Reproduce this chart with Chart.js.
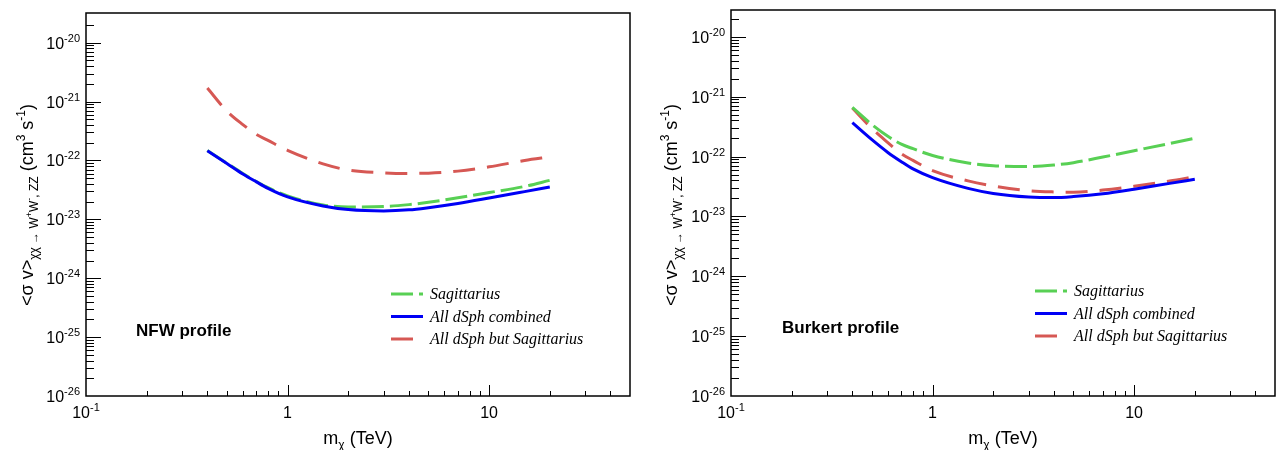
<!DOCTYPE html>
<html>
<head>
<meta charset="utf-8">
<script src="https://cdn.jsdelivr.net/npm/chart.js@4.4.0/dist/chart.umd.min.js"></script>
<style>
body { margin: 0; background: #fff; }
#wrap { position: relative; width: 1282px; height: 450px; }
.panel { position: absolute; top: 0; width: 641px; height: 450px; }
</style>
</head>
<body>
<div id="wrap">
    <div class="panel" style="left:0"><canvas id="chart-nfw" width="641" height="450"></canvas></div>
    <div class="panel" style="left:641px"><canvas id="chart-burkert" width="641" height="450"></canvas></div>
</div>
<script>
// dark matter mass, TeV
masses = [0.4, 0.5, 0.6, 0.7, 0.8, 1, 1.5, 2, 3, 4, 5, 7, 10, 15, 20]

// <sigma v> upper limits, cm^3 s^-1
nfw_sagittarius = [1.48e-22, 9.0e-23, 6.0e-23, 4.4e-23, 3.45e-23, 2.5e-23, 1.76e-23, 1.62e-23, 1.65e-23, 1.78e-23, 1.95e-23, 2.32e-23, 2.85e-23, 3.63e-23, 4.6e-23]
nfw_combined = [1.46e-22, 8.9e-23, 5.9e-23, 4.34e-23, 3.37e-23, 2.41e-23, 1.69e-23, 1.47e-23, 1.39e-23, 1.45e-23, 1.58e-23, 1.86e-23, 2.30e-23, 2.96e-23, 3.55e-23]
nfw_but_sagittarius = [1.70e-21, 6.9e-22, 4.07e-22, 2.77e-22, 2.19e-22, 1.49e-22, 8.75e-23, 6.9e-23, 6.18e-23, 6.03e-23, 6.1e-23, 6.6e-23, 7.8e-23, 1.0e-22, 1.15e-22]

burkert_sagittarius = [6.6e-22, 3.43e-22, 2.18e-22, 1.61e-22, 1.35e-22, 1.04e-22, 7.8e-23, 7.0e-23, 6.8e-23, 7.2e-23, 7.9e-23, 9.8e-23, 1.25e-22, 1.65e-22, 2.02e-22]
burkert_combined = [3.67e-22, 1.91e-22, 1.17e-22, 8.2e-23, 6.2e-23, 4.44e-23, 2.94e-23, 2.42e-23, 2.11e-23, 2.06e-23, 2.14e-23, 2.38e-23, 2.84e-23, 3.56e-23, 4.17e-23]
burkert_but_sagittarius = [6.45e-22, 2.94e-22, 1.71e-22, 1.11e-22, 8.6e-23, 5.8e-23, 3.92e-23, 3.23e-23, 2.69e-23, 2.56e-23, 2.53e-23, 2.75e-23, 3.18e-23, 3.9e-23, 4.6e-23]

series_labels = ['Sagittarius', 'All dSph combined', 'All dSph but Sagittarius']

x_major_ticks = [0.1, 1, 10]
x_tick_labels = ['10^-1', '1', '10']
y_major_ticks = [1e-26, 1e-25, 1e-24, 1e-23, 1e-22, 1e-21, 1e-20]
y_tick_labels = ['10^-26', '10^-25', '10^-24', '10^-23', '10^-22', '10^-21', '10^-20']

green_color = 'rgb(88, 208, 84)'
blue_color = 'rgb(0, 0, 245)'
red_color = 'rgb(214, 88, 84)'

sans = '"Liberation Sans", Arial, Helvetica, sans-serif'
serif = '"Liberation Serif", "Times New Roman", serif'

function f(size, style) {
    return (style ? style + ' ' : '') + size + 'px ' + sans
}

function power_parts(label, size) {
    const [base, exp] = label.split('^')
    const parts = [{text: base, font: f(size), dy: 0}]
    if (exp) parts.push({text: exp, font: f(Math.round(size * 0.7)), dy: -Math.round(size * 0.45)})
    return parts
}

function draw_rich(ctx, parts, x, y, align) {
    let width = 0
    parts.forEach(p => { ctx.font = p.font; width += ctx.measureText(p.text).width })
    let cx = align == 'center' ? x - width / 2 : (align == 'right' ? x - width : x)
    ctx.textAlign = 'left'
    ctx.textBaseline = 'alphabetic'
    parts.forEach(p => {
        ctx.font = p.font
        ctx.fillText(p.text, cx, y + p.dy)
        cx += ctx.measureText(p.text).width
    })
}

function minor_ticks(min, max) {
    const out = []
    for (let e = Math.floor(Math.log10(min)); e <= Math.ceil(Math.log10(max)); e++) {
        for (let k = 2; k <= 9; k++) {
            const v = k * Math.pow(10, e)
            if (v > min && v < max) out.push(v)
        }
    }
    return out
}

y_title_parts = [
    {text: '<σ v>', font: f(18), dy: 0},
    {text: 'χχ → W', font: f(12), dy: 5},
    {text: '+', font: f(9), dy: -1},
    {text: 'W', font: f(12), dy: 5},
    {text: '-', font: f(9), dy: -1},
    {text: ', ZZ', font: f(12), dy: 5},
    {text: ' (cm', font: f(18), dy: 0},
    {text: '3', font: f(12), dy: -8},
    {text: ' s', font: f(18), dy: 0},
    {text: '-1', font: f(12), dy: -8},
    {text: ')', font: f(18), dy: 0}
]

x_title_parts = [
    {text: 'm', font: f(18), dy: 0},
    {text: 'χ', font: f(12), dy: 5},
    {text: ' (TeV)', font: f(18), dy: 0}
]

const rootFrame = {
    id: 'rootFrame',
    afterDraw(chart, args, opts) {
        const {ctx, chartArea: a, scales: {x, y}} = chart
        ctx.save()
        ctx.strokeStyle = '#000'
        ctx.fillStyle = '#000'
        ctx.lineWidth = 1.5
        ctx.strokeRect(a.left, a.top, a.right - a.left, a.bottom - a.top)

        ctx.lineWidth = 1
        ctx.beginPath()
        x_major_ticks.forEach(v => {
            const px = Math.round(x.getPixelForValue(v)) + 0.5
            if (px - a.left > 2) { ctx.moveTo(px, a.bottom); ctx.lineTo(px, a.bottom - 11) }
        })
        minor_ticks(x.min, x.max).forEach(v => {
            const px = Math.round(x.getPixelForValue(v)) + 0.5
            if (a.right - px > 2) { ctx.moveTo(px, a.bottom); ctx.lineTo(px, a.bottom - 5) }
        })
        y_major_ticks.forEach(v => {
            const py = Math.round(y.getPixelForValue(v)) + 0.5
            if (a.bottom - py > 2) { ctx.moveTo(a.left, py); ctx.lineTo(a.left + 15, py) }
        })
        minor_ticks(y.min, y.max).forEach(v => {
            const py = Math.round(y.getPixelForValue(v)) + 0.5
            if (py - a.top > 3) { ctx.moveTo(a.left, py); ctx.lineTo(a.left + 8, py) }
        })
        ctx.stroke()

        x_major_ticks.forEach((v, i) => {
            draw_rich(ctx, power_parts(x_tick_labels[i], 16), x.getPixelForValue(v), a.bottom + 22, 'center')
        })
        y_major_ticks.forEach((v, i) => {
            draw_rich(ctx, power_parts(y_tick_labels[i], 16), a.left - 6, y.getPixelForValue(v) + 6, 'right')
        })

        draw_rich(ctx, x_title_parts, (a.left + a.right) / 2, 444, 'center')
        ctx.save()
        ctx.translate(opts.yTitleX, 205)
        ctx.rotate(-Math.PI / 2)
        draw_rich(ctx, y_title_parts, 0, 0, 'center')
        ctx.restore()

        ctx.font = f(17, 'bold')
        ctx.textAlign = 'left'
        ctx.textBaseline = 'middle'
        ctx.fillText(opts.profile.text, opts.profile.x, opts.profile.y)

        const lg = opts.legend
        chart.data.datasets.forEach((ds, i) => {
            const ly = lg.y + i * lg.dy
            ctx.strokeStyle = ds.borderColor
            ctx.lineWidth = ds.borderWidth
            ctx.setLineDash(ds.borderDash || [])
            ctx.beginPath()
            ctx.moveTo(lg.x, ly)
            ctx.lineTo(lg.x + 32, ly)
            ctx.stroke()
            ctx.setLineDash([])
            ctx.font = 'italic 16px ' + serif
            ctx.textBaseline = 'middle'
            ctx.fillText(ds.label, lg.x + 39, ly + 1)
        })
        ctx.restore()
    }
}

function make_datasets(sag, comb, but) {
    const pts = vals => masses.map((m, i) => ({x: m, y: vals[i]}))
    return [{
        label: series_labels[0],
        data: pts(sag),
        borderColor: green_color,
        borderWidth: 3,
        borderDash: [22, 6],
        order: 2
    }, {
        label: series_labels[1],
        data: pts(comb),
        borderColor: blue_color,
        borderWidth: 3,
        order: 1
    }, {
        label: series_labels[2],
        data: pts(but),
        borderColor: red_color,
        borderWidth: 3,
        borderDash: [22, 12],
        order: 3
    }]
}

function init_chart(id, datasets, ymax, padding, frameOpts) {
    return new Chart(document.getElementById(id).getContext('2d'), {
        type: 'line',
        data: {datasets: datasets},
        options: {
            responsive: false,
            animation: false,
            events: [],
            layout: {padding: padding},
            elements: {
                point: {radius: 0},
                line: {fill: false, cubicInterpolationMode: 'monotone', borderCapStyle: 'butt'}
            },
            plugins: {
                legend: {display: false},
                tooltip: {enabled: false},
                rootFrame: frameOpts
            },
            scales: {
                x: {
                    type: 'logarithmic',
                    min: 0.1,
                    max: 50,
                    grid: {display: false, drawTicks: false},
                    border: {display: false},
                    ticks: {display: false}
                },
                y: {
                    type: 'logarithmic',
                    min: 1e-26,
                    max: ymax,
                    grid: {display: false, drawTicks: false},
                    border: {display: false},
                    ticks: {display: false}
                }
            }
        },
        plugins: [rootFrame]
    })
}

nfw_chart = init_chart('chart-nfw',
    make_datasets(nfw_sagittarius, nfw_combined, nfw_but_sagittarius),
    3.2e-20,
    {left: 86, right: 11, top: 13, bottom: 54},
    {yTitleX: 33, profile: {text: 'NFW profile', x: 136, y: 331}, legend: {x: 391, y: 294, dy: 22.5}})

burkert_chart = init_chart('chart-burkert',
    make_datasets(burkert_sagittarius, burkert_combined, burkert_but_sagittarius),
    2.8e-20,
    {left: 90, right: 7, top: 10, bottom: 54},
    {yTitleX: 36, profile: {text: 'Burkert profile', x: 141, y: 328}, legend: {x: 394, y: 291, dy: 22.5}})
</script>
</body>
</html>
